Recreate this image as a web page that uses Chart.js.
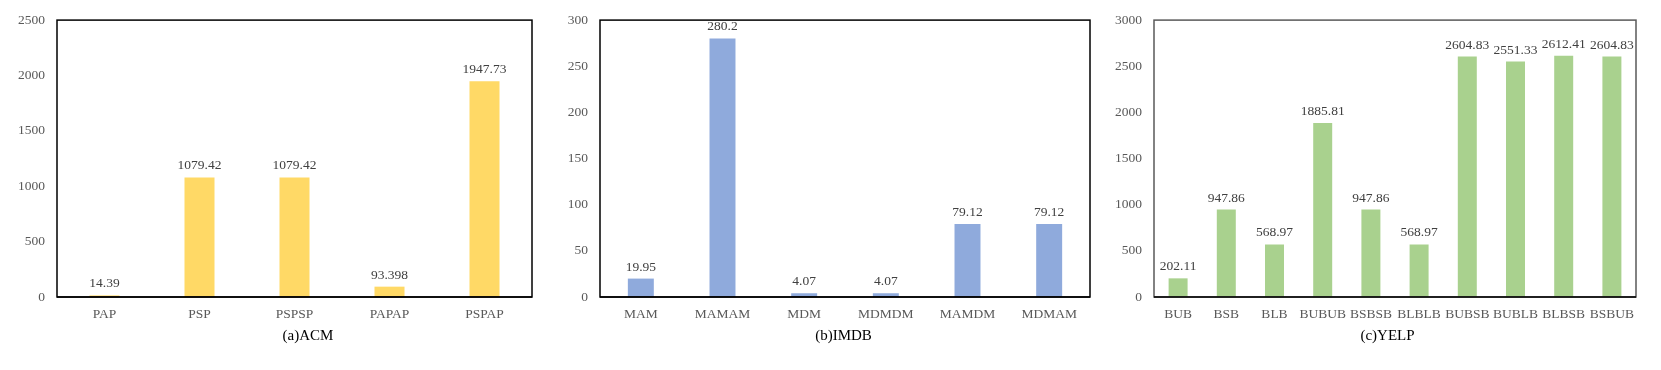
<!DOCTYPE html>
<html>
<head>
<meta charset="utf-8">
<script src="https://cdn.jsdelivr.net/npm/chart.js@4.4.1/dist/chart.umd.min.js"></script>
<style>
  html, body { margin: 0; padding: 0; background: #fff; overflow: hidden; }
  body { width: 1661px; height: 370px; position: relative; }
  canvas { position: absolute; top: 0; }
</style>
</head>
<body>
<canvas id="acm" width="616" height="370" style="left:0px"></canvas>
<canvas id="imdb" width="581" height="370" style="left:553px"></canvas>
<canvas id="yelp" width="547" height="370" style="left:1114px"></canvas>
<script>
// (a) ACM
const acmLabels = ['PAP', 'PSP', 'PSPSP', 'PAPAP', 'PSPAP']
const acmValues = [14.39, 1079.42, 1079.42, 93.398, 1947.73]

// (b) IMDB
const imdbLabels = ['MAM', 'MAMAM', 'MDM', 'MDMDM', 'MAMDM', 'MDMAM']
const imdbValues = [19.95, 280.2, 4.07, 4.07, 79.12, 79.12]

// (c) YELP
const yelpLabels = ['BUB', 'BSB', 'BLB', 'BUBUB', 'BSBSB', 'BLBLB', 'BUBSB', 'BUBLB', 'BLBSB', 'BSBUB']
const yelpValues = [202.11, 947.86, 568.97, 1885.81, 947.86, 568.97, 2604.83, 2551.33, 2612.41, 2604.83]

const FONT = 'Liberation Serif'

// value labels above bars + frame round the plot area
const barExtras = {
  id: 'barExtras',
  afterDatasetsDraw (chart, args, opts) {
    const ctx = chart.ctx
    const meta = chart.getDatasetMeta(0)
    const data = chart.data.datasets[0].data
    ctx.save()
    ctx.font = '13.5px "' + FONT + '"'
    ctx.fillStyle = '#404040'
    ctx.textAlign = 'center'
    ctx.textBaseline = 'alphabetic'
    meta.data.forEach((bar, i) => {
      ctx.fillText(String(data[i]), bar.x, bar.y - 8)
    })
    const a = chart.chartArea
    ctx.lineWidth = 1.5
    ctx.strokeStyle = opts.frame || '#000'
    ctx.strokeRect(a.left, a.top, a.right - a.left, a.bottom - a.top)
    ctx.strokeStyle = '#000'
    ctx.beginPath()
    ctx.moveTo(a.left, a.bottom)
    ctx.lineTo(a.right, a.bottom)
    ctx.stroke()
    ctx.restore()
  }
}

function makeChart (id, labels, values, color, cfg) {
  return new Chart(document.getElementById(id), {
    type: 'bar',
    data: {
      labels: labels,
      datasets: [{
        data: values,
        backgroundColor: color,
        borderWidth: 0,
        categoryPercentage: 1,
        barPercentage: cfg.barPct
      }]
    },
    plugins: [barExtras],
    options: {
      responsive: false,
      animation: false,
      layout: { padding: { top: cfg.top, left: 0, right: 0, bottom: 0 } },
      plugins: {
        legend: { display: false },
        tooltip: { enabled: false },
        title: {
          display: true,
          position: 'bottom',
          text: cfg.title,
          color: '#000',
          font: { family: FONT, size: 15, weight: 'normal' },
          padding: { top: 0, bottom: 25 }
        },
        barExtras: { frame: cfg.frame }
      },
      scales: {
        x: {
          grid: { display: false, drawTicks: false },
          border: { display: false },
          ticks: {
            color: '#595959',
            font: { family: FONT, size: 13.5 },
            padding: 9,
            autoSkip: false,
            maxRotation: 0,
            minRotation: 0
          },
          afterFit: s => { s.height = 30 }
        },
        y: {
          min: 0,
          max: cfg.max,
          grid: { display: false, drawTicks: false },
          border: { display: false },
          ticks: {
            stepSize: cfg.step,
            color: '#595959',
            font: { family: FONT, size: 13.5 },
            padding: 12,
            callback: v => String(v)
          },
          afterFit: s => { s.width = cfg.left }
        },
        pad: {
          type: 'linear',
          position: 'right',
          grid: { display: false, drawTicks: false },
          border: { display: false },
          ticks: { display: false },
          afterFit: s => { s.width = cfg.right }
        }
      }
    }
  })
}

makeChart('acm', acmLabels, acmValues, '#FFD966',
  { title: '(a)ACM', max: 2500, step: 500, barPct: 0.316, left: 57, right: 84, top: 19, frame: '#000' })
makeChart('imdb', imdbLabels, imdbValues, '#8FAADC',
  { title: '(b)IMDB', max: 300, step: 50, barPct: 0.318, left: 47, right: 44, top: 19, frame: '#000' })
makeChart('yelp', yelpLabels, yelpValues, '#A9D18E',
  { title: '(c)YELP', max: 3000, step: 500, barPct: 0.394, left: 40, right: 25, top: 20, frame: '#595959' })
</script>
</body>
</html>
